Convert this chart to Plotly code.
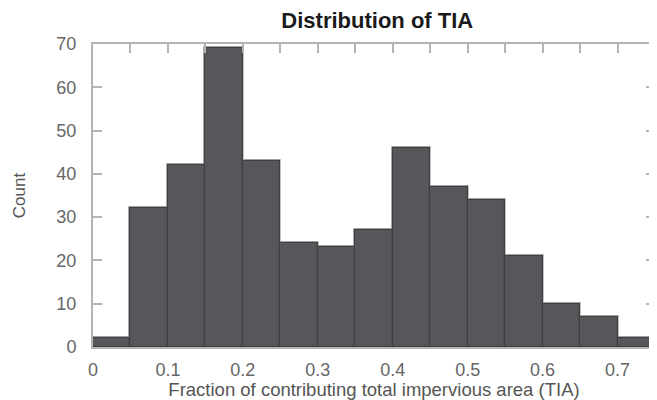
import plotly.graph_objects as go

bin_left = [0.0, 0.05, 0.10, 0.15, 0.20, 0.25, 0.30, 0.35, 0.40, 0.45, 0.50, 0.55, 0.60, 0.65, 0.70]
counts = [2, 32, 42, 69, 43, 24, 23, 27, 46, 37, 34, 21, 10, 7, 2]
bin_width = 0.05
x_ticks = [0, 0.1, 0.2, 0.3, 0.4, 0.5, 0.6, 0.7]
x_tick_labels = ["0", "0.1", "0.2", "0.3", "0.4", "0.5", "0.6", "0.7"]
y_ticks = [0, 10, 20, 30, 40, 50, 60, 70]

fig = go.Figure()
# light halo behind bars
fig.add_trace(go.Bar(x=bin_left, y=counts, width=bin_width, offset=0,
                     marker=dict(color="#b8b8b8", line=dict(color="#c4c4c4", width=3)),
                     hoverinfo="skip", showlegend=False))
fig.add_trace(go.Bar(x=bin_left, y=counts, width=bin_width, offset=0,
                     marker=dict(color="#56575a", line=dict(color="#404042", width=1.2)),
                     showlegend=False))
# invisible trace for top axis
fig.add_trace(go.Scatter(x=[0, 0.75], y=[0, 0], xaxis="x2", mode="markers",
                         marker=dict(opacity=0), hoverinfo="skip", showlegend=False))

axis_col = "#b4b4b4"
font_family = "Liberation Sans, Arial, sans-serif"
# page body adds an 8px offset, so the figure is sized to fit the window
fig.update_layout(
    width=649, height=392,
    margin=dict(l=85, r=2, t=36, b=53),
    paper_bgcolor="white", plot_bgcolor="white",
    barmode="overlay", bargap=0,
    font=dict(family=font_family, color="#666666", size=17),
    title=dict(text="<b>Distribution of TIA</b>", x=0.569, xanchor="center",
               y=0.969, yanchor="middle", font=dict(size=22, color="#1a1a1a", family=font_family)),
    xaxis=dict(range=[0, 0.75], tickvals=x_ticks, ticktext=x_tick_labels,
               ticks="", showline=True, linecolor=axis_col, linewidth=2,
               showgrid=False, zeroline=False, ticklabelstandoff=5, automargin=False,
               tickfont=dict(size=18),
               title=dict(text="Fraction of contributing total impervious area (TIA)",
                          font=dict(size=18.5, color="#555555"), standoff=1)),
    xaxis2=dict(range=[0, 0.75], overlaying="x", side="top", dtick=0.05, tick0=0,
                ticks="inside", ticklen=9, tickwidth=2, tickcolor=axis_col,
                showline=True, linecolor=axis_col, linewidth=2, automargin=False,
                showticklabels=False, showgrid=False, zeroline=False),
    yaxis=dict(range=[0, 70], tickvals=y_ticks, ticks="inside", ticklen=9, tickwidth=2,
               tickcolor=axis_col, showline=True, linecolor=axis_col, linewidth=2,
               mirror="ticks", showgrid=False, zeroline=False, ticklabelstandoff=11,
               automargin=False, tickfont=dict(size=18),
               title=dict(text="Count", font=dict(size=17, color="#555555"), standoff=26)),
)

fig.write_html("out.html")
